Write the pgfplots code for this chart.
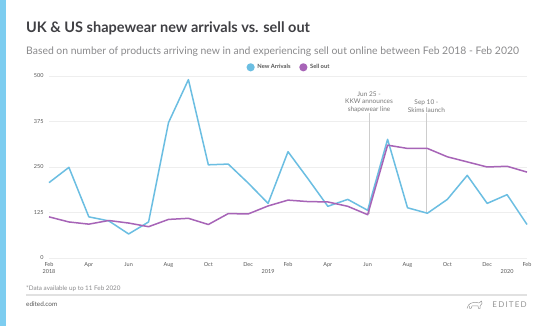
\documentclass[border=0pt]{standalone}
\usepackage{pgfplots}
\pgfplotsset{compat=1.18}
\usepackage{fontspec}
\setmainfont{Lato}
\definecolor{barblue}{RGB}{125,205,240}
\definecolor{nablue}{RGB}{107,190,226}
\definecolor{sopurple}{RGB}{167,100,183}
\definecolor{titlecol}{RGB}{64,64,68}
\definecolor{subcol}{RGB}{138,138,140}
\definecolor{tickcol}{RGB}{85,85,85}
\definecolor{gridcol}{RGB}{238,238,238}
\definecolor{annocol}{RGB}{120,120,120}
\definecolor{sepcol}{RGB}{225,225,225}
\definecolor{logocol}{RGB}{150,150,150}
\begin{document}
\begin{tikzpicture}[x=1pt,y=1pt]
\fill[white] (0,0) rectangle (553,326);
\fill[barblue] (0,0) rectangle (6.3,326);
\node[anchor=base west, inner sep=0, text=titlecol, font=\fontsize{14.5}{16}\selectfont\bfseries] at (26,293.2) {UK \& US shapewear new arrivals vs. sell out};
\node[anchor=base west, inner sep=0, text=subcol, font=\fontsize{10.4}{12}\selectfont] at (26,271.4) {Based on number of products arriving new in and experiencing sell out online between Feb 2018 - Feb 2020};
\begin{axis}[
  at={(49pt,68pt)}, anchor=south west,
  scale only axis, width=478pt, height=182pt,
  xmin=0, xmax=24, ymin=0, ymax=500,
  axis line style={draw=none},
  major tick length=0pt,
  ytick={0,125,250,375,500},
  ymajorgrids, grid style={line width=0.6pt, color=gridcol},
  xtick={0,2,...,24},
  xticklabels={Feb,Apr,Jun,Aug,Oct,Dec,Feb,Apr,Jun,Aug,Oct,Dec,Feb},
  ticklabel style={font=\fontsize{5.5}{6}\selectfont, text=tickcol},
  yticklabel style={anchor=east, inner sep=0pt, xshift=-5.3pt},
  xticklabel style={anchor=north, inner sep=0pt, yshift=-4pt},
  /pgf/number format/assume math mode=true,
  clip=false,
  legend style={at={(0.5,1)}, anchor=center, yshift=8.7pt, draw=none, fill=none,
    legend columns=2, font=\fontsize{5.8}{6.5}\selectfont\bfseries, text=tickcol,
    nodes={inner sep=0pt},
    /tikz/every odd column/.append style={column sep=2.7pt},
    /tikz/every even column/.append style={column sep=8.7pt}},
  legend image code/.code={\fill[#1] (0pt,0pt) circle (3.3pt);},
]
\draw[gridcol!70!gray, line width=0.8pt] (axis cs:16.07,122) -- (axis cs:16.07,397);
\draw[gridcol!70!gray, line width=0.8pt] (axis cs:18.95,124) -- (axis cs:18.95,397);
\node[anchor=south, align=center, inner sep=0.5pt, text=annocol, font=\fontsize{6.5}{7.8}\selectfont] at (axis cs:16.07,397) {Jun 25 -\\KKW announces\\shapewear line};
\node[anchor=south, align=center, inner sep=0.5pt, text=annocol, font=\fontsize{6.5}{7.8}\selectfont] at (axis cs:18.95,397) {Sep 10 -\\Skims launch};
\addplot[nablue, line width=1.5pt, line join=round] coordinates {
(0,207) (1,249) (2,113) (3,102) (4,66) (5,99) (6,372) (7,490) (8,256) (9,258) (10,206) (11,150)
(12,292) (13,218) (14,142) (15,161) (16,131) (17,326) (18,138) (19,123) (20,161) (21,227) (22,150) (23,174) (24,92)};
\addlegendentry{New Arrivals}
\addplot[sopurple, line width=1.5pt, line join=round] coordinates {
(0,113) (1,99) (2,93) (3,103) (4,96) (5,86) (6,106) (7,109) (8,92) (9,122) (10,121) (11,143)
(12,159) (13,155) (14,154) (15,142) (16,119) (17,310) (18,301) (19,301) (20,278) (21,264) (22,250) (23,252) (24,236)};
\addlegendentry{Sell out}
\node[anchor=north, inner sep=0pt, font=\fontsize{5.5}{6}\selectfont, text=tickcol, yshift=-11pt] at (axis cs:0,0) {2018};
\node[anchor=north, inner sep=0pt, font=\fontsize{5.5}{6}\selectfont, text=tickcol, yshift=-11pt] at (axis cs:11,0) {2019};
\node[anchor=north, inner sep=0pt, font=\fontsize{5.5}{6}\selectfont, text=tickcol, yshift=-11pt] at (axis cs:23,0) {2020};
\end{axis}
\node[anchor=west, inner sep=0, font=\fontsize{6.3}{7}\selectfont, text=subcol] at (26,37) {*Data available up to 11 Feb 2020};
\draw[sepcol, line width=1.5pt] (26,31) -- (527,31);
\node[anchor=west, inner sep=0, font=\fontsize{6.4}{7}\selectfont, text=tickcol] at (26,21.7) {edited.com};
\node[anchor=east, inner sep=0, font=\fontsize{8}{9}\selectfont\addfontfeature{LetterSpace=15}, text=logocol] at (527,21.5) {EDITED};
\draw[logocol, line width=0.5pt, line join=round] (467,17.5) -- (468.5,21) .. controls (471,24) and (476,24) .. (479,23) -- (481.5,25) -- (482,22.5) -- (480,20) -- (480,17.5) -- (478.5,17.5) -- (478,20) -- (472,20) -- (471,17.5) -- (469.5,17.5) -- (469.5,20);
\end{tikzpicture}
\end{document}
